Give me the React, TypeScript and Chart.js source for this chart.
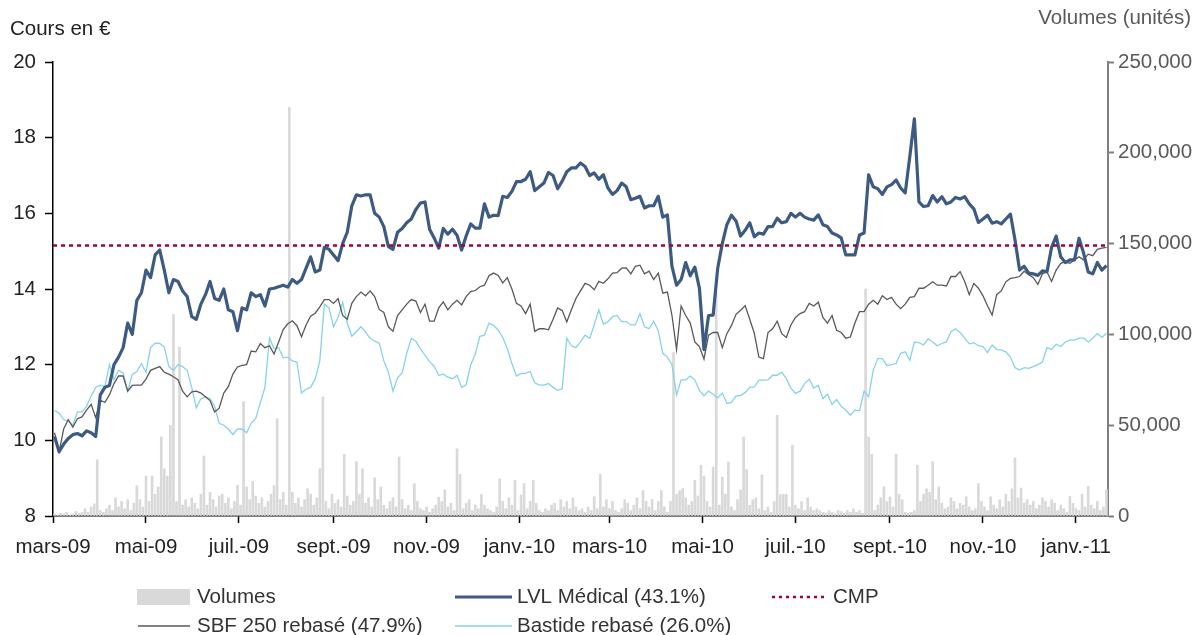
import React, { useEffect, useRef } from 'react';
import { Chart, registerables } from 'chart.js';

Chart.register(...registerables);

const FONT = '"Liberation Sans", Arial, sans-serif';
const FONT_SIZE = 20.5;

// x axis: days since 1 March 2009
const X_MAX = 692;
const tickDays = [0, 61, 122, 184, 245, 306, 365, 426, 487, 549, 610, 671];
const tickLabels = ['mars-09', 'mai-09', 'juil.-09', 'sept.-09', 'nov.-09', 'janv.-10', 'mars-10', 'mai-10', 'juil.-10', 'sept.-10', 'nov.-10', 'janv.-11'];

// line series sampled every 3 days from day 1
const LINE_START_DAY = 1;
const LINE_STEP_DAYS = 3;
// volumes sampled every 2 days from day 1
const VOL_START_DAY = 1;
const VOL_STEP_DAYS = 2;

const seriesLabels = ['Volumes', 'LVL Médical (43.1%)', 'CMP', 'SBF 250 rebasé (47.9%)', 'Bastide rebasé (26.0%)'];

const cmp = 15.15;

const lvl = [
  10.1, 9.7, 9.9, 10.05, 10.15, 10.18, 10.12, 10.25, 10.2, 10.1,
  11.2, 11.4, 11.45, 12.0, 12.2, 12.45, 13.1, 12.8, 13.7, 13.9,
  14.5, 14.3, 14.9, 15.03, 14.5, 13.9, 14.25, 14.2, 13.95, 13.8,
  13.27, 13.2, 13.6, 13.85, 14.2, 13.75, 13.7, 14.0, 13.45, 13.4,
  12.9, 13.5, 13.45, 13.9, 13.8, 13.85, 13.55, 14.0, 14.02, 14.06,
  14.1, 14.05, 14.25, 14.15, 14.25, 14.55, 14.85, 14.45, 14.5, 15.1,
  15.05, 14.9, 14.75, 15.2, 15.5, 16.2, 16.49, 16.46, 16.49, 16.49,
  16.0, 15.9, 15.65, 15.12, 15.05, 15.5, 15.6, 15.75, 15.85, 16.1,
  16.27, 16.3, 15.58, 15.35, 15.08, 15.6, 15.45, 15.58, 15.42, 15.03,
  15.4, 15.72, 15.61, 15.61, 16.25, 15.9, 15.95, 15.94, 16.45, 16.42,
  16.58, 16.84, 16.84, 16.9, 17.1, 16.6, 16.7, 16.8, 17.08, 17.0,
  16.65, 16.85, 17.1, 17.2, 17.2, 17.33, 17.24, 17.0, 17.07, 16.9,
  17.02, 16.67, 16.5, 16.6, 16.8, 16.7, 16.36, 16.4, 16.45, 16.14,
  16.2, 16.2, 16.45, 15.9, 15.96, 14.6, 14.1, 14.25, 14.7, 14.35,
  14.58, 14.02, 12.4, 13.3, 13.31, 14.55, 15.2, 15.7, 15.95, 15.8,
  15.4, 15.55, 15.75, 15.38, 15.48, 15.45, 15.65, 15.65, 15.87, 15.75,
  15.78, 16.0, 15.9, 16.0, 15.9, 15.85, 15.82, 15.96, 15.7, 15.65,
  15.48, 15.43, 15.35, 14.9, 14.9, 14.9, 15.43, 15.48, 17.02, 16.7,
  16.65, 16.5, 16.7, 16.76, 16.88, 16.67, 16.54, 17.5, 18.5, 16.3,
  16.18, 16.2, 16.47, 16.3, 16.44, 16.25, 16.3, 16.42, 16.38, 16.44,
  16.25, 16.12, 15.76, 15.85, 15.95, 15.74, 15.78, 15.72, 15.85, 15.98,
  15.3, 14.5, 14.6, 14.42, 14.4, 14.36, 14.48, 14.46, 15.1, 15.4,
  14.85, 14.7, 14.77, 14.77, 15.34, 14.95, 14.45, 14.4, 14.7, 14.5,
  14.62,
];

const sbf = [
  10.2, 9.7, 10.3, 10.55, 10.35, 10.57, 10.62, 10.8, 10.95, 10.6,
  11.06, 11.0, 11.2, 11.5, 11.7, 11.7, 11.3, 11.45, 11.46, 11.46,
  11.62, 11.85, 11.9, 11.95, 11.8, 11.75, 11.68, 11.6, 11.3, 11.15,
  11.28, 11.3, 11.25, 11.15, 11.05, 10.75, 10.85, 11.25, 11.42, 11.75,
  11.94, 11.98, 12.0, 12.36, 12.34, 12.56, 12.45, 12.5, 12.28, 12.6,
  12.93, 13.08, 13.16, 13.03, 12.74, 13.05, 13.28, 13.36, 13.53, 13.72,
  13.72, 13.62, 13.75, 13.3, 13.2, 13.62, 13.8, 13.92, 13.82, 13.95,
  13.8, 13.46, 13.38, 13.0, 12.88, 13.3, 13.45, 13.6, 13.72, 13.68,
  13.38, 13.6, 13.15, 13.15, 13.5, 13.66, 13.45, 13.6, 13.7, 13.58,
  13.8, 13.93, 13.96, 14.06, 14.1, 14.35, 14.42, 14.36, 14.16, 14.3,
  14.0, 13.62, 13.55, 13.35, 13.6, 12.88, 12.95, 12.95, 12.92, 13.2,
  13.5, 13.43, 13.13, 13.45, 13.75, 13.95, 14.15, 14.1, 13.98, 14.2,
  14.15, 14.27, 14.42, 14.43, 14.55, 14.56, 14.4, 14.6, 14.63, 14.4,
  14.47, 14.25, 14.42, 13.89, 13.92, 13.3, 12.4, 13.55, 13.3, 13.1,
  12.6, 12.48, 12.15, 12.78, 12.85, 12.85, 12.45, 12.82, 13.03, 13.33,
  13.44, 13.56, 13.2, 12.83, 12.2, 12.16, 12.85, 12.95, 13.15, 12.82,
  12.72, 13.05, 13.25, 13.35, 13.4, 13.62, 13.55, 13.65, 13.25, 13.1,
  13.3, 12.91, 12.85, 12.7, 12.73, 13.1, 13.4, 13.4, 13.6, 13.7,
  13.6, 13.82, 13.72, 13.78, 13.6, 13.48, 13.6, 13.78, 13.8, 14.02,
  14.02, 14.1, 14.19, 14.1, 14.1, 14.08, 14.33, 14.33, 14.46, 14.2,
  13.85, 14.15, 14.02, 13.82, 13.55, 13.31, 13.85, 13.95, 14.19, 14.28,
  14.3, 14.33, 14.47, 14.38, 14.3, 14.12, 14.4, 14.45, 14.2, 14.5,
  14.68, 14.72, 14.68, 14.77, 14.85, 14.77, 14.92, 14.88, 15.05, 15.08,
  15.1,
];

const bastide = [
  10.79, 10.72, 10.55, 10.5, 10.4, 10.75, 10.75, 10.9, 11.17, 11.4,
  11.46, 11.42, 12.0, 11.6, 11.85, 11.78, 11.3, 11.74, 11.82, 12.03,
  11.8, 12.45, 12.57, 12.56, 12.47, 11.95, 11.85, 12.0, 11.95, 11.85,
  11.4, 10.86, 11.1, 11.15, 11.1, 10.9, 10.45, 10.4, 10.3, 10.15,
  10.3, 10.3, 10.2, 10.45, 10.58, 11.0, 11.4, 12.7, 12.42, 12.45,
  12.18, 12.2, 12.1, 12.07, 11.25, 11.35, 11.4, 11.63, 12.1, 13.6,
  13.5, 13.0, 13.25, 13.65, 13.1, 12.75, 12.87, 13.0, 12.86, 12.7,
  12.62, 12.57, 12.1, 11.8, 11.3, 11.65, 11.78, 12.3, 12.69, 12.62,
  12.42, 12.25, 12.08, 11.96, 11.72, 11.75, 11.67, 11.63, 11.72, 11.4,
  11.47, 12.0, 12.28, 12.75, 12.78, 13.1, 13.04, 12.91, 12.72, 12.42,
  12.03, 11.7, 11.77, 11.77, 11.82, 11.52, 11.46, 11.46, 11.5, 11.4,
  11.32, 11.36, 12.7, 12.5, 12.45, 12.6, 12.78, 12.7, 13.05, 13.45,
  13.07, 13.13, 13.27, 13.3, 13.14, 13.14, 13.05, 13.05, 13.35, 13.0,
  12.95, 13.15, 12.9, 12.3, 12.2, 12.0, 11.2, 11.6, 11.6, 11.7,
  11.6, 11.32, 11.18, 11.3, 11.22, 11.12, 11.25, 10.98, 11.0, 11.17,
  11.19, 11.26, 11.4, 11.41, 11.59, 11.59, 11.6, 11.72, 11.72, 11.8,
  11.63, 11.38, 11.24, 11.3, 11.5, 11.62, 11.38, 11.45, 11.1, 11.22,
  10.95, 11.08, 10.9, 10.8, 10.66, 10.8, 10.78, 11.3, 11.15, 11.85,
  12.16, 12.16, 11.98, 12.0, 12.03, 12.3, 12.34, 12.12, 12.6, 12.58,
  12.52, 12.68, 12.6, 12.5, 12.56, 12.6, 12.87, 12.95, 12.85, 12.7,
  12.55, 12.58, 12.5, 12.48, 12.32, 12.52, 12.4, 12.39, 12.34, 12.2,
  11.92, 11.86, 11.92, 11.9, 11.95, 12.0, 12.07, 12.45, 12.4, 12.54,
  12.48, 12.6, 12.65, 12.65, 12.7, 12.7, 12.6, 12.7, 12.82, 12.72,
  12.83,
];

// volumes in thousands of shares
const volumesThousands = [
  1, 0.5, 1.5, 1, 2, 0.5, 1, 2.5, 1.5, 2,
  4, 2, 5, 6.7, 31, 3, 2, 4, 6, 3,
  10, 5, 8, 4, 9, 3, 7, 16.6, 9, 5,
  22, 8, 22, 12, 16, 43.5, 26, 22, 50, 111,
  8, 93, 6, 9, 5, 10, 7, 4, 12, 33,
  6, 13, 9, 5, 11, 12, 7, 10, 4, 8,
  17, 6, 63, 16, 9, 19, 11, 7, 10, 5,
  8, 12, 16.6, 53.6, 9, 13, 6, 225, 13, 7,
  10, 5, 9, 15, 12, 6, 10, 26, 65.6, 8,
  4, 12, 7, 9, 5, 34, 11, 6, 8, 30,
  12, 26, 7, 10, 5, 21, 9, 16, 6, 4,
  8, 10, 5, 32.5, 9, 4, 6, 3, 17.8, 8,
  4, 3, 5, 2, 4, 6, 10.4, 8, 14.4, 5,
  7, 3, 37, 23, 4, 7, 9, 3, 6, 4,
  11.8, 6, 4, 3, 2, 5, 20.5, 8, 4, 10,
  6, 19.6, 3, 11.6, 17.8, 4, 8, 19.6, 7, 3,
  2, 4, 3, 6, 7, 3, 9, 5, 8, 4,
  10, 5, 3, 4, 2, 5, 3, 10.6, 4, 23,
  5, 9, 4, 8, 3, 2, 4, 9, 7, 3,
  6, 10, 4, 14, 8, 5, 9, 3, 8, 14,
  5, 2, 8, 90, 12, 14, 15, 10, 6, 8,
  19.6, 11, 28, 22, 8, 5, 27, 123, 6, 21.5,
  12, 29.7, 5, 3, 9, 14.4, 43.5, 25.6, 6, 9,
  10, 4, 22.7, 3, 5, 2, 8, 55.5, 11.8, 12,
  11.8, 5, 39, 6, 4, 8, 3, 10, 5, 3,
  4, 3, 2, 1.5, 3, 2, 1, 3, 2.5, 1.5,
  3, 2, 4, 2, 3, 1.5, 125, 43.5, 34, 3,
  6, 10, 16, 8, 10.5, 5, 34, 12, 9, 2,
  1.5, 2, 3, 28, 8, 12, 15, 13, 30, 9,
  16, 7, 4, 5, 10, 8, 4, 7, 6, 10.6,
  5, 3, 4, 17.8, 8, 5, 3, 10.6, 6, 4,
  9, 5, 12, 8, 15, 32, 10, 15.4, 7, 9,
  6, 8, 4, 6, 10, 8, 5, 9, 7, 3,
  6, 4, 2, 10.8, 7, 4, 3, 12, 5, 16.3,
  6, 4, 8, 3, 5, 14.6,
];

const COLORS = {
  volumes: '#d9d9d9',
  lvl: '#3c5a82',
  cmp: '#a3003d',
  sbf: '#595959',
  bastide: '#86d3e6',
};

const overlayPlugin = {
  id: 'overlay',
  afterDraw(chart: any) {
    const ctx = chart.ctx as CanvasRenderingContext2D;
    ctx.save();
    ctx.font = `${FONT_SIZE}px ${FONT}`;
    ctx.textBaseline = 'middle';
    ctx.textAlign = 'left';
    ctx.fillStyle = '#222';
    ctx.fillText('Cours en €', 10, 29);
    ctx.textAlign = 'right';
    ctx.fillStyle = '#595959';
    ctx.fillText('Volumes (unités)', 1191, 18);

    // legend
    ctx.textAlign = 'left';
    const r1 = 597;
    const r2 = 626;
    ctx.fillStyle = COLORS.volumes;
    ctx.fillRect(137, r1 - 8, 53, 16);
    ctx.fillStyle = '#333';
    ctx.fillText(seriesLabels[0], 197, r1);

    const line = (x1: number, x2: number, y: number, color: string, w: number, dash: number[]) => {
      ctx.beginPath();
      ctx.setLineDash(dash);
      ctx.strokeStyle = color;
      ctx.lineWidth = w;
      ctx.moveTo(x1, y);
      ctx.lineTo(x2, y);
      ctx.stroke();
      ctx.setLineDash([]);
    };
    line(455, 512, r1, COLORS.lvl, 3, []);
    ctx.fillText(seriesLabels[1], 517, r1);
    line(772, 825, r1, COLORS.cmp, 2.5, [3, 4]);
    ctx.fillText(seriesLabels[2], 833, r1);
    line(138, 190, r2, COLORS.sbf, 1.5, []);
    ctx.fillText(seriesLabels[3], 197, r2);
    line(455, 512, r2, COLORS.bastide, 1.5, []);
    ctx.fillText(seriesLabels[4], 517, r2);
    ctx.restore();
  },
};

export default function App() {
  const ref = useRef<HTMLCanvasElement>(null);

  useEffect(() => {
    if (!ref.current) return;
    const lineData = (vals: number[]) => vals.map((v, i) => ({ x: LINE_START_DAY + i * LINE_STEP_DAYS, y: v }));
    const volData = volumesThousands.map((v, j) => ({ x: VOL_START_DAY + j * VOL_STEP_DAYS, y: v * 1000 }));
    const tickFont = { family: FONT, size: FONT_SIZE };

    const chart = new Chart(ref.current, {
      type: 'bar',
      data: {
        datasets: [
          {
            type: 'line', label: seriesLabels[2], data: [{ x: 0, y: cmp }, { x: X_MAX, y: cmp }],
            borderColor: COLORS.cmp, borderWidth: 2.5, borderDash: [4, 4], pointRadius: 0, yAxisID: 'y', order: 0,
          },
          {
            type: 'line', label: seriesLabels[1], data: lineData(lvl),
            borderColor: COLORS.lvl, borderWidth: 3.2, pointRadius: 0, yAxisID: 'y', order: 1,
            borderJoinStyle: 'round', tension: 0,
          },
          {
            type: 'line', label: seriesLabels[3], data: lineData(sbf),
            borderColor: COLORS.sbf, borderWidth: 1.3, pointRadius: 0, yAxisID: 'y', order: 2, tension: 0,
          },
          {
            type: 'line', label: seriesLabels[4], data: lineData(bastide),
            borderColor: COLORS.bastide, borderWidth: 1.3, pointRadius: 0, yAxisID: 'y', order: 3, tension: 0,
          },
          {
            type: 'bar', label: seriesLabels[0], data: volData,
            backgroundColor: COLORS.volumes, barThickness: 2, yAxisID: 'y1', order: 10,
          },
        ] as any,
      },
      options: {
        animation: false,
        responsive: false,
        maintainAspectRatio: false,
        layout: { padding: { top: 62, left: 0, right: 0, bottom: 0 } },
        plugins: { legend: { display: false }, tooltip: { enabled: false } },
        scales: {
          x: {
            type: 'linear', min: 0, max: X_MAX, offset: false,
            afterBuildTicks: (s: any) => { s.ticks = tickDays.map((v) => ({ value: v })); },
            afterFit: (s: any) => { s.height = 119; },
            ticks: {
              callback: (v: any) => { const k = tickDays.indexOf(v); return k >= 0 ? tickLabels[k] : ''; },
              font: tickFont, color: '#222', padding: 12, maxRotation: 0, autoSkip: false,
            },
            grid: { offset: false, drawOnChartArea: false, drawTicks: true, tickLength: 7, tickColor: '#000', tickWidth: 1.5 },
            border: { color: '#000', width: 1.5 },
          },
          y: {
            position: 'left', min: 8, max: 20,
            afterFit: (s: any) => { s.width = 53; },
            ticks: { stepSize: 2, font: tickFont, color: '#222', padding: 9 },
            grid: { drawOnChartArea: false, tickLength: 8, tickColor: '#000', tickWidth: 1.5 },
            border: { color: '#000', width: 1.5 },
          },
          y1: {
            position: 'right', min: 0, max: 250000,
            afterFit: (s: any) => { s.width = 93; },
            ticks: {
              stepSize: 50000, font: tickFont, color: '#595959', padding: 4,
              callback: (v: any) => Number(v).toLocaleString('en-US'),
            },
            grid: { drawOnChartArea: false, tickLength: 6, tickColor: '#808080', tickWidth: 2 },
            border: { color: '#808080', width: 2 },
          },
        },
      } as any,
      plugins: [overlayPlugin],
    });
    return () => chart.destroy();
  }, []);

  return (
    <div style={{ position: 'fixed', left: 0, top: 0, width: 1201, height: 635, background: '#fff' }}>
      <canvas ref={ref} width={1201} height={635} style={{ display: 'block', width: 1201, height: 635 }} />
    </div>
  );
}
